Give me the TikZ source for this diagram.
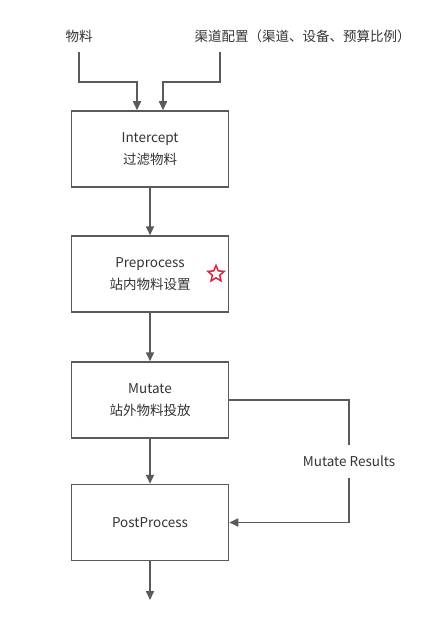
\documentclass[tikz,border=0pt]{standalone}
\usepackage{fontspec}
\setmainfont{Noto Sans CJK SC}
\usepackage{xcolor}
\usetikzlibrary{shapes.geometric, arrows.meta, positioning, calc}

\definecolor{linegray}{HTML}{5A5A5A}
\definecolor{textgray}{HTML}{333333}
\definecolor{starred}{HTML}{E0223C}

\tikzset{
  stage/.style={draw=linegray, line width=1.5pt, fill=white, minimum width=157pt, minimum height=76pt,
    inner sep=0pt, align=center, text=textgray, font=\fontsize{13.5}{22}\selectfont},
  plain/.style={text=textgray, font=\fontsize{13.5}{16}\selectfont, inner sep=0pt},
  flow/.style={draw=linegray, line width=1.6pt, -{Triangle[length=9pt, width=8pt]}},
  wire/.style={draw=linegray, line width=1.6pt}
}

\begin{document}
\begin{tikzpicture}[x=1pt, y=-1pt]
\useasboundingbox (0,0) rectangle (443,620);

% Inputs
\node[plain] (matl) at (79,36) {物料};
\node[plain] (chan) at (302.5,36) {渠道配置（渠道、设备、预算比例）};
\coordinate (matlsrc) at (79,52);
\coordinate (chansrc) at (220,52);

% Stages
\node[stage] (icpt) at (150,149) {Intercept\\过滤物料};
\node[stage] (prep) at (150,274) {Preprocess\\站内物料设置};
\node[stage] (mut) at (150,400) {Mutate\\站外物料投放};
\node[stage] (post) at (150,522.5) {PostProcess};
\coordinate (out) at (150,600);

% Star on Preprocess
\node[star, star points=5, star point ratio=2.2, draw=starred, line width=1.5pt, minimum size=17pt, inner sep=0pt] (flag) at (216,274) {};

% Side label
\node[plain, minimum height=33pt] (res) at (349,461.5) {Mutate Results};

% Connectors
\draw[flow] (matlsrc) -- ++(0,30) -| ([xshift=-13pt]icpt.north);
\draw[flow] (chansrc) -- ++(0,30) -| ([xshift=13pt]icpt.north);
\draw[flow] (icpt) -- (prep);
\draw[flow] (prep) -- (mut);
\draw[flow] (mut) -- (post);
\draw[flow] (post) -- (out);
\draw[wire] (mut.east) -| (res.north);
\draw[flow] (res.south) |- (post.east);
\end{tikzpicture}
\end{document}
